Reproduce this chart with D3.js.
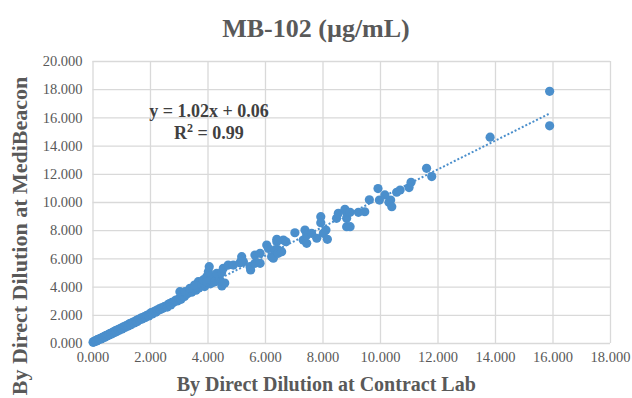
<!DOCTYPE html>
<html>
<head>
<meta charset="utf-8">
<script src="https://cdn.jsdelivr.net/npm/d3@7"></script>
<style>
  body { margin: 0; background: #fff; }
  svg { display: block; }
</style>
</head>
<body>
<svg width="632" height="398"></svg>
<script>
// values
var labX = [
	0.02, 0.04, 0.06, 0.08, 0.10, 0.12, 0.14, 0.16, 0.18, 0.20, 0.23, 0.25, 0.28, 0.30, 0.33, 0.35, 0.38, 0.40, 0.43, 0.45,
	0.48, 0.50, 0.53, 0.56, 0.58, 0.60, 0.63, 0.66, 0.70, 0.72, 0.75, 0.78, 0.80, 0.83, 0.86, 0.90, 0.93, 0.96, 1.00, 1.03,
	1.06, 1.10, 1.13, 1.16, 1.20, 1.24, 1.28, 1.30, 1.34, 1.38, 1.42, 1.45, 1.50, 1.53, 1.56, 1.60, 1.64, 1.68, 1.72, 1.76,
	1.80, 1.84, 1.88, 1.92, 1.96, 2.00, 2.04, 2.08, 2.12, 2.16, 2.20, 2.24, 2.28, 2.32, 2.36, 2.40, 2.45, 2.50, 2.55, 2.60,
	2.64, 2.68, 2.72, 2.76, 2.80, 2.85, 2.90, 2.95, 3.00, 3.04, 3.08, 3.12, 3.16, 3.20, 3.24, 3.30, 3.45, 3.60, 3.70, 3.90,
	4.10, 4.20, 3.04, 3.22, 3.39, 3.39, 3.51, 3.62, 3.68, 3.55, 3.80, 3.85, 3.97, 4.15, 4.03, 4.06, 3.97, 4.26, 4.43, 4.32,
	4.49, 4.55, 4.72, 4.90, 4.50, 4.60, 5.13, 5.25, 5.19, 5.19, 5.50, 5.48, 5.65, 5.65, 5.83, 5.83, 6.06, 6.12, 6.46, 6.41,
	6.73, 6.23, 6.29, 6.35, 6.46, 6.58, 6.64, 6.41, 7.04, 7.33, 7.45, 7.39, 7.45, 7.62, 7.80, 7.94, 7.94, 8.12, 8.03, 8.17,
	8.49, 8.55, 8.78, 8.86, 8.84, 8.84, 8.96, 8.96, 9.25, 9.47, 9.63, 9.93, 9.98, 10.17, 10.37, 10.31, 10.41, 10.58, 10.70, 11.01,
	11.08, 11.62, 11.80, 13.83, 15.90, 15.90
];
var mbY = [
	0.05, 0.10, 0.08, 0.14, 0.12, 0.18, 0.15, 0.22, 0.20, 0.26, 0.24, 0.30, 0.33, 0.29, 0.38, 0.36, 0.42, 0.45, 0.41, 0.50,
	0.53, 0.49, 0.58, 0.60, 0.56, 0.66, 0.68, 0.64, 0.75, 0.78, 0.73, 0.84, 0.86, 0.80, 0.92, 0.95, 0.90, 1.02, 1.05, 1.00,
	1.12, 1.15, 1.10, 1.22, 1.25, 1.20, 1.34, 1.38, 1.30, 1.45, 1.48, 1.42, 1.56, 1.60, 1.52, 1.68, 1.65, 1.76, 1.70, 1.82,
	1.86, 1.80, 1.95, 1.98, 1.92, 2.08, 2.15, 2.06, 2.20, 2.25, 2.18, 2.34, 2.30, 2.42, 2.38, 2.50, 2.46, 2.58, 2.62, 2.55,
	2.75, 2.80, 2.70, 2.88, 2.85, 2.95, 3.05, 2.98, 3.12, 3.20, 3.10, 3.28, 3.40, 3.30, 3.45, 3.50, 3.60, 3.75, 3.90, 4.00,
	4.20, 4.30, 3.64, 3.64, 3.64, 3.88, 3.88, 3.99, 4.35, 4.11, 4.11, 4.47, 4.70, 4.70, 5.06, 5.41, 4.35, 4.35, 4.47, 4.94,
	4.99, 5.30, 5.53, 5.53, 4.05, 4.25, 5.70, 5.77, 6.12, 5.89, 5.18, 5.41, 5.65, 6.24, 6.36, 5.65, 6.95, 6.71, 6.60, 7.35,
	7.18, 6.12, 6.01, 6.60, 6.36, 6.48, 7.30, 7.18, 7.82, 7.30, 7.07, 8.01, 7.66, 7.78, 7.43, 8.96, 8.53, 8.01, 7.78, 7.35,
	8.84, 9.20, 9.48, 9.20, 8.84, 8.25, 9.27, 8.25, 9.27, 9.31, 10.16, 10.95, 10.14, 10.50, 10.14, 9.98, 9.67, 10.69, 10.85, 11.02,
	11.40, 12.39, 11.80, 14.60, 17.85, 15.40
];
var xTicks = [0, 2, 4, 6, 8, 10, 12, 14, 16, 18];
var yTicks = [0, 2, 4, 6, 8, 10, 12, 14, 16, 18, 20];
var slope = 1.02, intercept = 0.06;

var svg = d3.select('svg');
var margin = { top: 61, right: 22, bottom: 55, left: 92.5 };
var width = +svg.attr('width') - margin.left - margin.right;
var height = +svg.attr('height') - margin.top - margin.bottom;
var g = svg.append('g').attr('transform', `translate(${margin.left}, ${margin.top})`);

var serif = '"Liberation Serif", "DejaVu Serif", serif';
var textGray = '#595959';
var blue = '#4b8fcc';
var formatTick = d3.format('.3f');

var x = d3.scaleLinear().domain([0, 18]).range([0, width]);
var y = d3.scaleLinear().domain([0, 20]).range([height, 0]);

// grid
g.append('g')
	.attr('transform', `translate(0,${height})`)
	.call(d3.axisBottom(x).tickValues(xTicks).tickSize(-height).tickFormat(formatTick).tickPadding(9))
	.call(function (a) {
		a.select('.domain').remove();
		a.selectAll('.tick line').attr('stroke', '#d9d9d9').attr('stroke-width', 1.3);
		a.selectAll('.tick text').attr('fill', textGray).style('font', `14.5px ${serif}`);
	});

g.append('g')
	.call(d3.axisLeft(y).tickValues(yTicks).tickSize(-width).tickFormat(formatTick).tickPadding(10))
	.call(function (a) {
		a.select('.domain').remove();
		a.selectAll('.tick line').attr('stroke', '#d9d9d9').attr('stroke-width', 1.3);
		a.selectAll('.tick text').attr('fill', textGray).style('font', `14.5px ${serif}`);
	});

// points
g.append('g')
	.selectAll('circle')
	.data(d3.range(labX.length))
	.join('circle')
	.attr('cx', function (i) { return x(labX[i]); })
	.attr('cy', function (i) { return y(mbY[i]); })
	.attr('r', 4.6)
	.attr('fill', blue);

// linear trendline
var xMax = d3.max(labX);
g.append('line')
	.attr('x1', x(0)).attr('y1', y(intercept))
	.attr('x2', x(xMax)).attr('y2', y(slope * xMax + intercept))
	.attr('stroke', blue)
	.attr('stroke-width', 2)
	.attr('stroke-dasharray', '2,2');

// equation
var eqStyle = `bold 18px ${serif}`;
g.append('text')
	.attr('x', x(4.05)).attr('y', y(16.05))
	.attr('fill', '#404040')
	.attr('text-anchor', 'middle')
	.style('font', eqStyle)
	.text('y = 1.02x + 0.06');
var r2 = g.append('text')
	.attr('x', x(4.05)).attr('y', y(14.5))
	.attr('fill', '#404040')
	.attr('text-anchor', 'middle')
	.style('font', eqStyle);
r2.append('tspan').text('R');
r2.append('tspan').attr('dy', -7).style('font-size', '12px').text('2');
r2.append('tspan').attr('dy', 7).text(' = 0.99');

// title and axis titles
svg.append('text')
	.attr('x', 316).attr('y', 37)
	.attr('text-anchor', 'middle')
	.attr('fill', textGray)
	.style('font', `bold 26px ${serif}`)
	.text('MB-102 (µg/mL)');

svg.append('text')
	.attr('x', margin.left + width / 2 - 25).attr('y', 391)
	.attr('text-anchor', 'middle')
	.attr('fill', textGray)
	.style('font', `bold 20px ${serif}`)
	.text('By Direct Dilution at Contract Lab');

svg.append('text')
	.attr('transform', 'translate(27, 236) rotate(-90)')
	.attr('text-anchor', 'middle')
	.attr('fill', textGray)
	.style('font', `bold 22px ${serif}`)
	.text('By Direct Dilution at MediBeacon');
</script>
</body>
</html>
